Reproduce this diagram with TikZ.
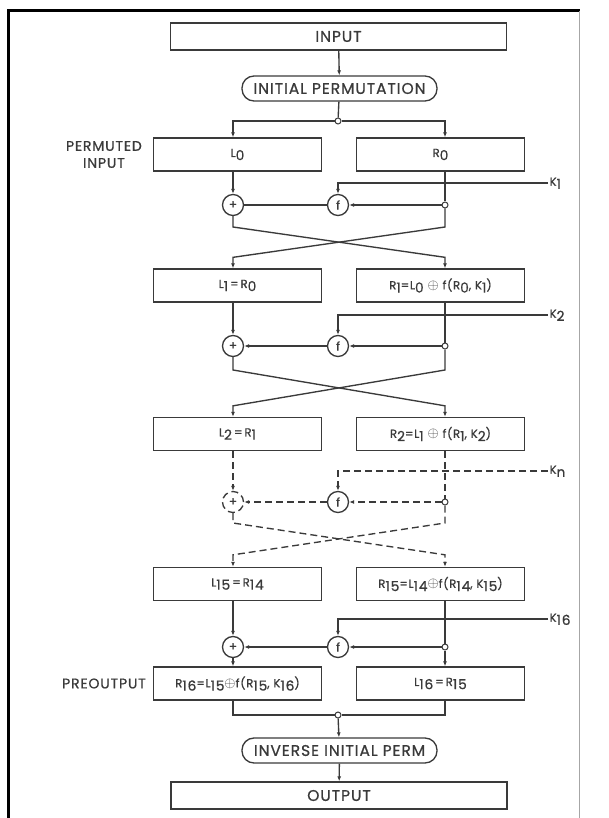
\documentclass[tikz,border=0pt]{standalone}
\usepackage{fontspec}
\setmainfont{Poppins}[LetterSpace=6,FakeBold=0.8]
\usepackage{tikz}
\usetikzlibrary{arrows.meta,calc,positioning}
\definecolor{inkGray}{HTML}{3A3A3A}
\newcommand{\idx}[1]{\raisebox{-0.5ex}{\fontsize{13.8}{14}\selectfont #1}}
\newcommand{\xo}{{\fontsize{15.5}{15.5}\selectfont$\oplus$}}
\newcommand{\eq}{\hspace{2pt}=\hspace{2pt}}

\begin{document}
\begin{tikzpicture}[x=1pt,y=-1pt,color=inkGray,line width=1.35pt,
    box/.style={draw,minimum width=168pt,minimum height=33pt,inner sep=2pt,
      font=\fontsize{11.7}{12}\selectfont},
    wide/.style={draw,minimum width=336pt,minimum height=27pt,
      font=\fontsize{15.5}{16}\selectfont},
    perm/.style={draw,rounded corners=12pt,minimum width=195pt,minimum height=25pt,
      font=\fontsize{15.5}{16}\selectfont},
    op/.style={draw,circle,minimum size=21pt,inner sep=0pt,
      font=\fontsize{12}{12}\selectfont},
    dot/.style={draw,circle,fill=white,minimum size=6pt,inner sep=0pt,line width=1pt},
    key/.style={anchor=mid west,inner sep=1pt,font=\fontsize{11.5}{12}\selectfont},
    side/.style={align=center,font=\fontsize{14}{17}\selectfont},
    arrow/.style={-{Latex[length=5pt,width=4pt]}},
    loose/.style={dash pattern=on 7pt off 4pt}]
  \useasboundingbox (0,0) rectangle (608,818);
  % scan frame
  \draw[line width=3pt,black] (8.5,818) -- (8.5,11) -- (580,11);
  \draw[line width=0.8pt,black!35] (579,11) -- (579,818);
  \coordinate (lc) at (233,0);
  \coordinate (rc) at (445,0);

  \node[wide] (input) at (338.5,36.5) {INPUT};
  \node[perm] (ip) at (339.5,88.5) {INITIAL PERMUTATION};
  \node[dot] (split) at (338,121) {};
  \node[box] (l0) at (237.5,154.5) {L\idx{0}};
  \node[box] (r0) at (440.5,154.5) {R\idx{0}};
  \node[side,left=7pt of l0] (permin) {PERMUTED\\INPUT};
  \draw[arrow] (input) -- (ip);
  \draw (ip) -- (split);
  \draw[arrow] (split) -| (l0.north -| lc);
  \draw[arrow] (split) -| (r0.north -| rc);

  % round 1
  \node[op] (xor1) at (233,205) {+};
  \node[op] (f1) at (338,205) {f};
  \node[dot] (j1) at (445,205) {};
  \node[key] (k1) at (548,183) {K\idx{1}};
  \node[box] (l1) at (237.5,285.5) {L\idx{1}\eq R\idx{0}};
  \node[box] (r1) at (440.5,285.5) {R\idx{1}=L\idx{0} \xo{} f(R\idx{0}, K\idx{1})};
  \draw (r0.south -| rc) -- (j1);
  \draw[arrow] (l0.south -| lc) -- (xor1);
  \draw[arrow] (k1.mid west) -| (f1);
  \draw[arrow] (j1) -- (f1);
  \draw (f1) -- (xor1);
  \draw[arrow] (xor1) -- ++(0,22) -- ($(r1.north -| rc)+(0,-11)$) -- (r1.north -| rc);
  \draw[arrow] (j1) -- ++(0,22) -- ($(l1.north -| lc)+(0,-11)$) -- (l1.north -| lc);

  % round 2
  \node[op] (xor2) at (233,346) {+};
  \node[op] (f2) at (338,346) {f};
  \node[dot] (j2) at (445,346) {};
  \node[key] (k2) at (548,315) {K\idx{2}};
  \node[box] (l2) at (237.5,434) {L\idx{2}\eq R\idx{1}};
  \node[box] (r2) at (440.5,434) {R\idx{2}=L\idx{1} \xo{} f(R\idx{1}, K\idx{2})};
  \draw (r1.south -| rc) -- (j2);
  \draw[arrow] (l1.south -| lc) -- (xor2);
  \draw[arrow] (k2.mid west) -| (f2);
  \draw[arrow] (j2) -- (f2);
  \draw[arrow] (f2) -- (xor2);
  \draw[arrow] (xor2) -- ++(0,24) -- ($(r2.north -| rc)+(0,-11)$) -- (r2.north -| rc);
  \draw[arrow] (j2) -- ++(0,24) -- ($(l2.north -| lc)+(0,-11)$) -- (l2.north -| lc);

  % round n (dashed)
  \node[op,loose] (xorn) at (233,502) {+};
  \node[op] (fn) at (338,502) {f};
  \node[dot] (jn) at (445,502) {};
  \node[key] (kn) at (548,471) {K\idx{n}};
  \node[box] (l15) at (237.5,584) {L\idx{15}\eq R\idx{14}};
  \node[box] (r15) at (440.5,584) {R\idx{15}=L\idx{14}\xo{}f(R\idx{14}, K\idx{15})};
  \draw[loose] (r2.south -| rc) -- (jn);
  \draw[arrow,loose] (l2.south -| lc) -- (xorn);
  \draw[arrow,loose] (kn.mid west) -| (fn);
  \draw[arrow,loose] (jn) -- (fn);
  \draw[arrow,loose] (fn) -- (xorn);
  \draw[arrow,loose] (xorn) -- ++(0,21) -- ($(r15.north -| rc)+(0,-12)$) -- (r15.north -| rc);
  \draw[arrow,loose] (jn) -- ++(0,21) -- ($(l15.north -| lc)+(0,-12)$) -- (l15.north -| lc);

  % round 16
  \node[op] (xor16) at (233,647) {+};
  \node[op] (f16) at (338,647) {f};
  \node[dot] (j16) at (445,647) {};
  \node[key] (k16) at (548,619) {K\idx{16}};
  \node[box] (r16) at (237.5,683.5) {R\idx{16}=L\idx{15}\xo{}f(R\idx{15}, K\idx{16})};
  \node[box] (l16) at (440.5,683.5) {L\idx{16}\eq R\idx{15}};
  \node[side,left=3pt of r16] (preout) {PREOUTPUT};
  \draw (r15.south -| rc) -- (j16);
  \draw[arrow] (l15.south -| lc) -- (xor16);
  \draw[arrow] (k16.mid west) -| (f16);
  \draw[arrow] (j16) -- (f16);
  \draw[arrow] (f16) -- (xor16);
  \draw[arrow] (xor16) -- (r16.north -| lc);
  \draw[arrow] (j16) -- (l16.north -| rc);

  % output side
  \node[dot] (join) at (338,715) {};
  \node[perm] (iip) at (339.5,750.5) {INVERSE INITIAL PERM};
  \node[wide] (output) at (339,795.5) {OUTPUT};
  \draw (r16.south -| lc) |- (join);
  \draw (l16.south -| rc) |- (join);
  \draw[arrow] (join) -- (iip);
  \draw[arrow] (iip) -- (output);
\end{tikzpicture}
\end{document}
